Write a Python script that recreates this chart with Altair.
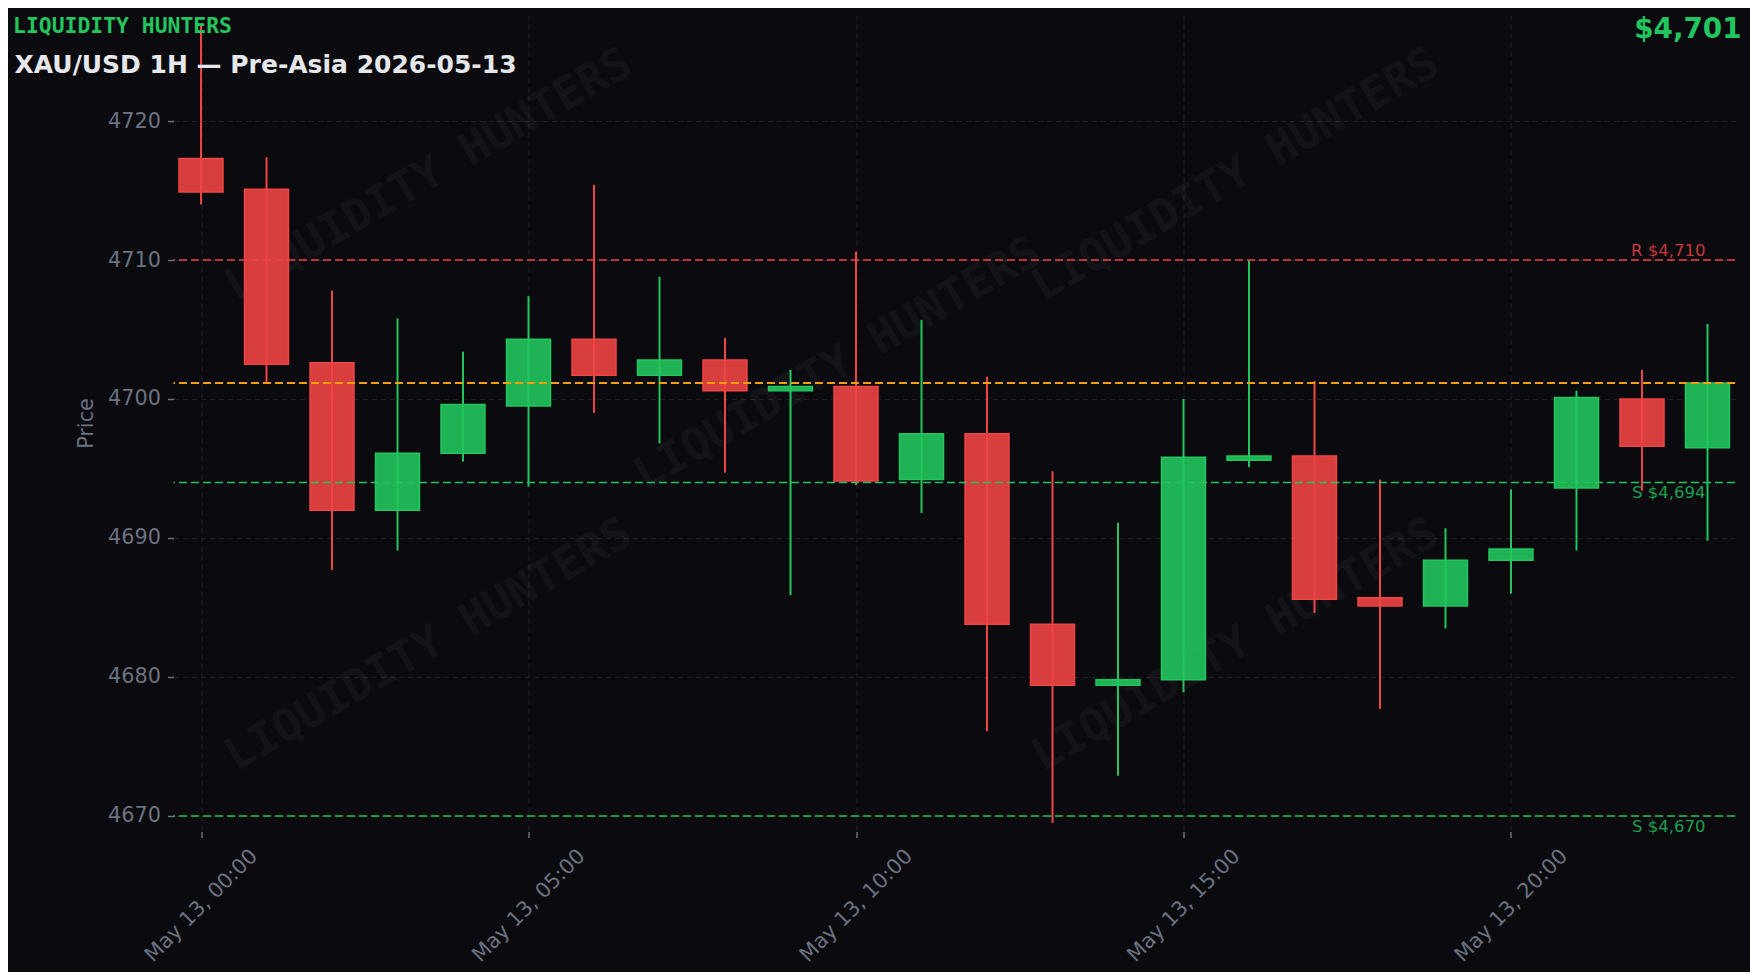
import altair as alt
import pandas as pd

# ---------------- data ----------------
hours = list(range(24))
opens = [4717.3, 4715.1, 4702.6, 4692.0, 4696.1, 4699.5, 4704.3, 4701.7,
         4702.8, 4700.6, 4700.9, 4694.2, 4697.5, 4683.8, 4679.4, 4679.8,
         4695.6, 4695.9, 4685.7, 4685.1, 4688.4, 4693.6, 4700.0, 4696.5]
highs = [4727.0, 4717.4, 4707.8, 4705.8, 4703.4, 4707.4, 4715.4, 4708.8,
         4704.4, 4702.1, 4710.6, 4705.7, 4701.6, 4694.8, 4691.1, 4700.0,
         4710.0, 4701.3, 4694.2, 4690.7, 4693.5, 4700.6, 4702.1, 4705.4]
lows = [4714.0, 4701.2, 4687.7, 4689.1, 4695.5, 4693.7, 4699.0, 4696.8,
        4694.7, 4685.9, 4693.8, 4691.8, 4676.1, 4669.5, 4672.9, 4678.9,
        4695.1, 4684.6, 4677.7, 4683.5, 4686.0, 4689.1, 4693.4, 4689.8]
closes = [4714.9, 4702.5, 4692.0, 4696.1, 4699.6, 4704.3, 4701.7, 4702.8,
          4700.6, 4700.9, 4694.1, 4697.5, 4683.8, 4679.4, 4679.8, 4695.8,
          4695.9, 4685.6, 4685.1, 4688.4, 4689.2, 4700.1, 4696.6, 4701.15]

resistance_levels = [4710]
support_levels = [4694, 4670]
current_price = closes[-1]

y_ticks = [4670, 4680, 4690, 4700, 4710, 4720]
x_tick_hours = [0, 5, 10, 15, 20]

brand = "LIQUIDITY HUNTERS"
title = "XAU/USD 1H \u2014 Pre-Asia 2026-05-13"

# ---------------- styling ----------------
BG = "#0a0a0f"
GREEN = "#22c55e"
RED = "#ef4444"
ORANGE = "#f59e0b"
GREY = "#6b7280"
GRID = "#1e2029"
FONT = "DejaVu Sans"
MONO = "DejaVu Sans Mono"

times = [f"2026-05-13T{h:02d}:00:00" for h in hours]
df = pd.DataFrame({"t": times, "open": opens, "high": highs,
                   "low": lows, "close": closes})
df["dir"] = ["up" if c >= o else "down" for o, c in zip(opens, closes)]

dir_scale = alt.Scale(domain=["up", "down"], range=[GREEN, RED])

x_domain = [alt.DateTime(year=2026, month=5, date=12, hours=23, minutes=34, seconds=48),
            alt.DateTime(year=2026, month=5, date=13, hours=23, minutes=25, seconds=12)]
x_scale = alt.Scale(domain=x_domain, padding=0, nice=False)
y_scale = alt.Scale(domain=[4668.88, 4727.63], nice=False, zero=False, padding=0)

x_axis = alt.Axis(
    values=[alt.DateTime(year=2026, month=5, date=13, hours=h) for h in x_tick_hours],
    format="%b %d, %H:%M", labelAngle=315, labelAlign="center",
    labelBaseline="middle", labelPadding=68, tickSize=6, tickColor=GREY,
    tickWidth=1.5, labelColor=GREY, labelFont=FONT, labelFontSize=20.8,
    domain=False, grid=True, gridColor=GRID, gridDash=[5, 4], gridWidth=1.2,
    title=None, labelOverlap=False, labelFlush=False)

y_axis = alt.Axis(
    values=y_ticks, format="d", tickSize=6, tickColor=GREY, tickWidth=1.5,
    labelColor=GREY, labelFont=FONT, labelFontSize=20.8, labelPadding=7,
    domain=False, grid=True, gridColor=GRID, gridDash=[5, 4], gridWidth=1.2,
    title="Price", titleColor=GREY, titleFont=FONT, titleFontSize=20.8,
    titleFontWeight="normal", titleAngle=270, titleX=-87, titleY=408,
    titleAlign="center", titleBaseline="middle", labelFlush=False)

X = alt.X("t:T", scale=x_scale, axis=x_axis)

base = alt.Chart(df)

# watermarks (decorative, pixel placed)
wm_pos = [(255, 160), (664, 349), (1062, 160), (255, 630), (1062, 630)]
wm_layers = [
    alt.Chart(pd.DataFrame({"label": [brand]})).mark_text(
        font=MONO, fontWeight="bold", fontSize=45, angle=330,
        align="center", baseline="middle", color="#ffffff", opacity=0.035
    ).encode(x=alt.value(px), y=alt.value(py), text="label:N")
    for px, py in wm_pos
]

wicks = base.mark_rule(strokeWidth=2).encode(
    x=X,
    y=alt.Y("low:Q", scale=y_scale, axis=y_axis),
    y2="high:Q",
    color=alt.Color("dir:N", scale=dir_scale, legend=None),
)

bodies = base.mark_bar(size=44, fillOpacity=0.9, strokeWidth=1.5).encode(
    x=X,
    y=alt.Y("open:Q", scale=y_scale),
    y2="close:Q",
    fill=alt.Fill("dir:N", scale=dir_scale, legend=None),
    stroke=alt.Stroke("dir:N", scale=dir_scale, legend=None),
)

levels_df = pd.DataFrame({
    "price": resistance_levels + support_levels + [current_price],
    "col": [RED] * len(resistance_levels) + [GREEN] * len(support_levels) + [ORANGE],
    "w": [1.5] * (len(resistance_levels) + len(support_levels)) + [1.8],
})
level_rules = alt.Chart(levels_df).mark_rule(strokeDash=[8, 4]).encode(
    y=alt.Y("price:Q", scale=y_scale),
    color=alt.Color("col:N", scale=None),
    strokeWidth=alt.StrokeWidth("w:Q", scale=None),
)

r_df = pd.DataFrame({"price": resistance_levels,
                     "t": [times[-1]] * len(resistance_levels),
                     "label": [f"R ${p:,}" for p in resistance_levels]})
s_df = pd.DataFrame({"price": support_levels,
                     "t": [times[-1]] * len(support_levels),
                     "label": [f"S ${p:,}" for p in support_levels]})

r_labels = alt.Chart(r_df).mark_text(
    font=FONT, fontSize=16.5, align="right", baseline="alphabetic",
    dx=-2, dy=-4, color=RED, opacity=0.8
).encode(x=X, y=alt.Y("price:Q", scale=y_scale), text="label:N")

s_labels = alt.Chart(s_df).mark_text(
    font=FONT, fontSize=16.5, align="right", baseline="alphabetic",
    dx=-2, dy=16, color=GREEN, opacity=0.8
).encode(x=X, y=alt.Y("price:Q", scale=y_scale), text="label:N")

brand_txt = alt.Chart(pd.DataFrame({"label": [brand]})).mark_text(
    font=MONO, fontWeight="bold", fontSize=21.4, align="left",
    baseline="alphabetic", color=GREEN
).encode(x=alt.value(-160.5), y=alt.value(18.3), text="label:N")

title_txt = alt.Chart(pd.DataFrame({"label": [title]})).mark_text(
    font=FONT, fontWeight="bold", fontSize=25, align="left",
    baseline="alphabetic", color="#e5e7eb"
).encode(x=alt.value(-159), y=alt.value(58.3), text="label:N")

price_txt = alt.Chart(pd.DataFrame({"label": [f"${current_price:,.0f}"]})).mark_text(
    font=FONT, fontWeight="bold", fontSize=27.8, align="right",
    baseline="alphabetic", color=GREEN
).encode(x=alt.value(1568), y=alt.value(23.3), text="label:N")

chart = alt.layer(
    *wm_layers, wicks, bodies, level_rules, r_labels, s_labels,
    brand_txt, title_txt, price_txt
).properties(
    width=1561.5, height=816.5,
    autosize=alt.AutoSizeParams(type="none"),
    padding={"left": 165.5, "top": 7, "right": 15, "bottom": 140.5},
    background=BG,
).configure_view(stroke=None)

chart.save("out.html", embed_options={"renderer": "svg", "actions": False})
